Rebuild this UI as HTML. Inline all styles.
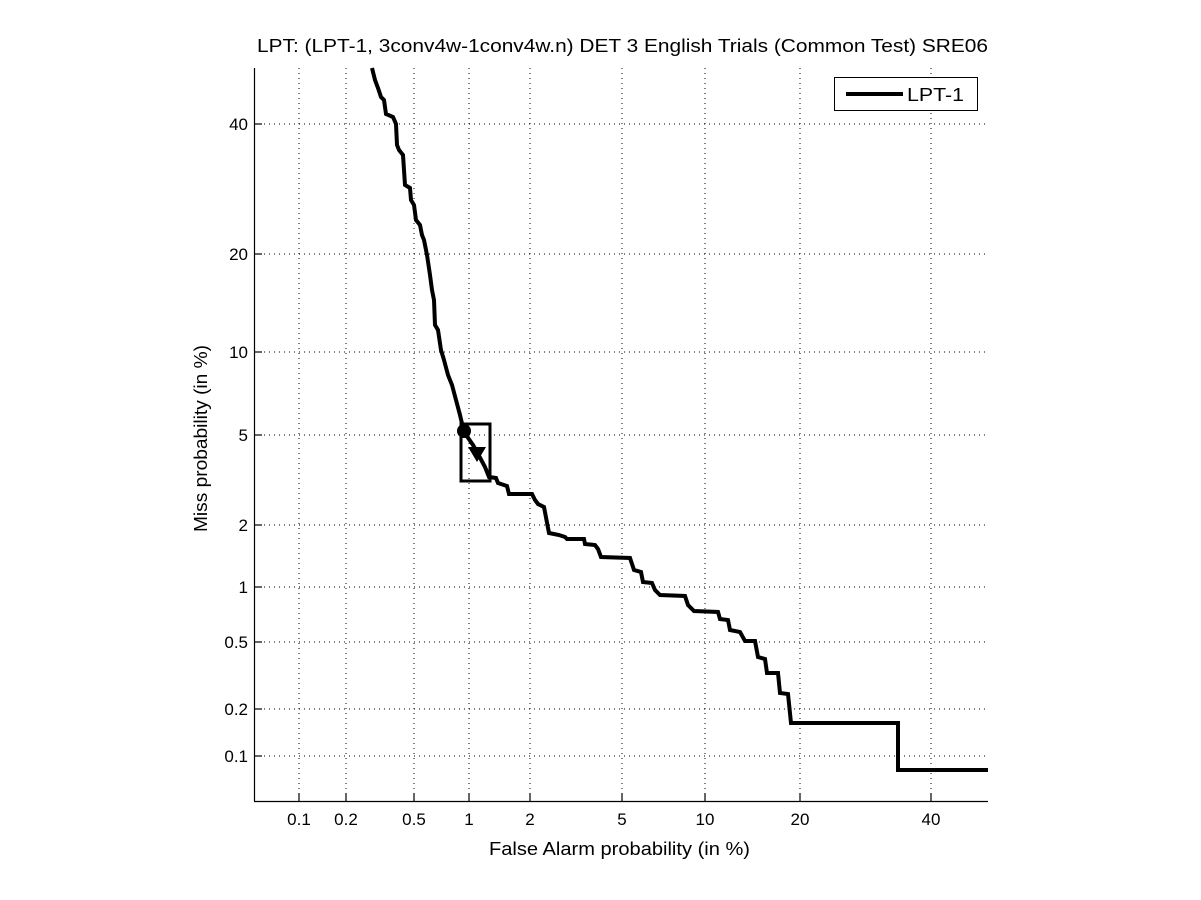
<!DOCTYPE html>
<html><head><style>body{margin:0;background:#fff}svg{display:block}text{font-family:"Liberation Sans",sans-serif;fill:#000}</style></head>
<body>
<svg width="1201" height="900" xmlns="http://www.w3.org/2000/svg">
<rect width="1201" height="900" fill="#fff"/>
<g stroke="#000" stroke-width="1" stroke-dasharray="1,4">
<line x1="299" y1="68" x2="299" y2="801"/><line x1="346" y1="68" x2="346" y2="801"/><line x1="414" y1="68" x2="414" y2="801"/><line x1="469" y1="68" x2="469" y2="801"/><line x1="530" y1="68" x2="530" y2="801"/><line x1="622" y1="68" x2="622" y2="801"/><line x1="705" y1="68" x2="705" y2="801"/><line x1="800" y1="68" x2="800" y2="801"/><line x1="931" y1="68" x2="931" y2="801"/>
<line x1="254" y1="124" x2="988" y2="124"/><line x1="254" y1="254" x2="988" y2="254"/><line x1="254" y1="352" x2="988" y2="352"/><line x1="254" y1="435" x2="988" y2="435"/><line x1="254" y1="525" x2="988" y2="525"/><line x1="254" y1="587" x2="988" y2="587"/><line x1="254" y1="642" x2="988" y2="642"/><line x1="254" y1="709" x2="988" y2="709"/><line x1="254" y1="756" x2="988" y2="756"/>
</g>
<g stroke="#000" stroke-width="1.2">
<line x1="254.5" y1="68" x2="254.5" y2="801"/><line x1="254" y1="801.5" x2="988" y2="801.5"/>
<line x1="254" y1="124" x2="262" y2="124"/><line x1="254" y1="254" x2="262" y2="254"/><line x1="254" y1="352" x2="262" y2="352"/><line x1="254" y1="435" x2="262" y2="435"/><line x1="254" y1="525" x2="262" y2="525"/><line x1="254" y1="587" x2="262" y2="587"/><line x1="254" y1="642" x2="262" y2="642"/><line x1="254" y1="709" x2="262" y2="709"/><line x1="254" y1="756" x2="262" y2="756"/>
<line x1="299" y1="801" x2="299" y2="793"/><line x1="346" y1="801" x2="346" y2="793"/><line x1="414" y1="801" x2="414" y2="793"/><line x1="469" y1="801" x2="469" y2="793"/><line x1="530" y1="801" x2="530" y2="793"/><line x1="622" y1="801" x2="622" y2="793"/><line x1="705" y1="801" x2="705" y2="793"/><line x1="800" y1="801" x2="800" y2="793"/><line x1="931" y1="801" x2="931" y2="793"/>
</g>
<g font-size="17" text-anchor="end">
<text x="248" y="130">40</text><text x="248" y="260">20</text><text x="248" y="358">10</text><text x="248" y="441">5</text><text x="248" y="531">2</text><text x="248" y="593">1</text><text x="248" y="648">0.5</text><text x="248" y="715">0.2</text><text x="248" y="762">0.1</text>
</g>
<g font-size="17" text-anchor="middle">
<text x="299" y="825">0.1</text><text x="346" y="825">0.2</text><text x="414" y="825">0.5</text><text x="469" y="825">1</text><text x="530" y="825">2</text><text x="622" y="825">5</text><text x="705" y="825">10</text><text x="800" y="825">20</text><text x="931" y="825">40</text>
</g>
<g font-size="18">
<text x="489" y="855" textLength="261" lengthAdjust="spacingAndGlyphs">False Alarm probability (in %)</text>
<text x="257" y="52" textLength="731" lengthAdjust="spacingAndGlyphs">LPT: (LPT-1, 3conv4w-1conv4w.n) DET 3 English Trials (Common Test) SRE06</text>
<text transform="translate(207,532) rotate(-90)" textLength="187" lengthAdjust="spacingAndGlyphs">Miss probability (in %)</text>
</g>
<polyline fill="none" stroke="#000" stroke-width="4" stroke-linejoin="miter" points="372,68 375,80 378,88 381,97 384,100 386,114 393,117 396,124 397,145 399,150 403,155 405,185 410,188 411,200 414,205 416,220 420,225 422,235 424,240 427,255 430,275 432,290 434,300 435,325 438,330 441,350 444,360 448,375 452,385 456,400 460,415 464,432 473,445 477,452 485,467 489,477 496,478 498,483 507,486 509,494 532,494 535,500 538,504 544,507 549,533 559,535 565,537 567,539 584,539 585,544 595,545 598,549 601,557 630,558 634,570 641,572 643,582 652,583 655,590 660,595 685,596 688,605 694,611 718,612 720,619 728,620 730,630 740,632 745,641 755,641 758,657 765,659 767,673 778,673 780,693 788,694 791,723 898,723 898,770 988,770"/>
<rect x="461" y="424" width="29" height="57" fill="none" stroke="#000" stroke-width="3"/>
<circle cx="464" cy="431" r="7" fill="#000"/>
<polygon points="468,447 486,447 477,462" fill="#000"/>
<rect x="834.5" y="77.5" width="143" height="33" fill="#fff" stroke="#000" stroke-width="1"/>
<line x1="846" y1="94" x2="903" y2="94" stroke="#000" stroke-width="4"/>
<text x="907" y="101" font-size="18" textLength="57" lengthAdjust="spacingAndGlyphs">LPT-1</text>
</svg>
</body></html>
